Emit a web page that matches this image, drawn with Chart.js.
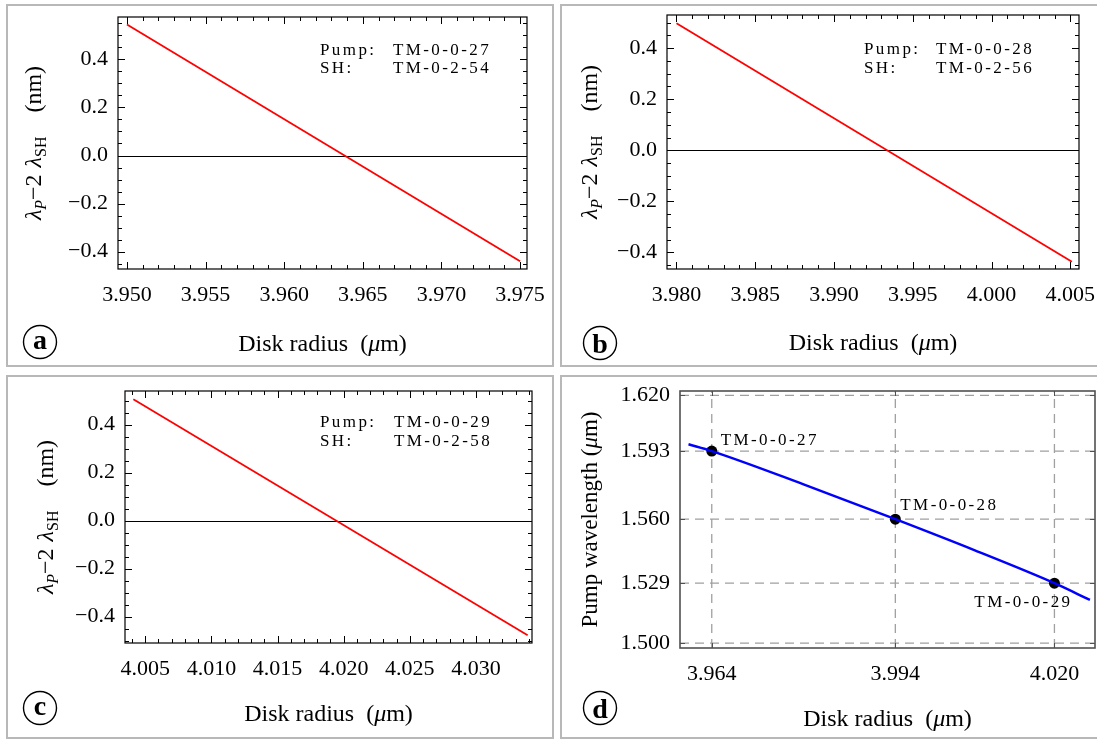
<!DOCTYPE html>
<html>
<head>
<meta charset="utf-8">
<script src="https://cdn.jsdelivr.net/npm/chart.js@4.4.1/dist/chart.umd.min.js"></script>
<style>
  html, body { margin: 0; padding: 0; background: #fff; }
  body { width: 1097px; height: 740px; position: relative; overflow: hidden; }
  .panel { position: absolute; border: 2px solid #b8b8b8; box-sizing: border-box; }
  .panel canvas { position: absolute; left: 0; top: 0; }
</style>
</head>
<body>
<script>
// ---- data ----
// (a) pump TM-0-0-27 / SH TM-0-2-54
const radiusA = [3.950, 3.975];
const detuneA = [0.545, -0.440];
// (b) pump TM-0-0-28 / SH TM-0-2-56
const radiusB = [3.980, 4.0051];
const detuneB = [0.498, -0.437];
// (c) pump TM-0-0-29 / SH TM-0-2-58
const radiusC = [4.0041, 4.0339];
const detuneC = [0.506, -0.478];

const detuneTicks = [-0.4, -0.2, 0.0, 0.2, 0.4];
const radiusTicksA = [3.950, 3.955, 3.960, 3.965, 3.970, 3.975];
const radiusTicksB = [3.980, 3.985, 3.990, 3.995, 4.000, 4.005];
const radiusTicksC = [4.005, 4.010, 4.015, 4.020, 4.025, 4.030];

const pumpModes = ['TM-0-0-27', 'TM-0-0-28', 'TM-0-0-29'];
const shModes = ['TM-0-2-54', 'TM-0-2-56', 'TM-0-2-58'];

// (d) pump wavelength vs disk radius
const curveRadius = [3.9602, 3.964, 3.979, 3.994, 4.007, 4.020, 4.0258];
const curveWavelength = [1.5963, 1.593, 1.5769, 1.560, 1.5449, 1.529, 1.5209];
const matchRadius = [3.964, 3.994, 4.020];
const matchWavelength = [1.593, 1.560, 1.529];
const wavelengthTicks = [1.500, 1.529, 1.560, 1.593, 1.620];
const matchRadiusTicks = [3.964, 3.994, 4.020];

// ---- layout (page pixels) ----
const layout = {
    a: { box: [6, 4, 548, 363], plot: [118, 17, 527, 269], x: [3.94943, 3.97544], y: [-0.472, 0.576],
         yTitleX: 33, xTitleY: 343, circle: [40, 342], legend: [320, 393, 55, 73] },
    b: { box: [560, 4, 545, 363], plot: [667, 15, 1079, 269], x: [3.9794, 4.00555], y: [-0.465, 0.530],
         yTitleX: 589, xTitleY: 342, circle: [600, 343], legend: [864, 936, 54, 73] },
    c: { box: [6, 375, 548, 364], plot: [125, 391, 532, 643], x: [4.00347, 4.03423], y: [-0.510, 0.540],
         yTitleX: 45, xTitleY: 713, circle: [40, 708], legend: [320, 394, 427, 446] },
    d: { box: [560, 375, 545, 364], plot: [680, 391, 1095, 648], x: [3.95881, 4.02663], y: [1.4976, 1.6221],
         yTitleX: 589, xTitleY: 718, circle: [600, 708],
         labelOffsets: [[9, -6, 'left'], [5, -9, 'left'], [18, 24, 'right']] }
};

const SERIF = '"Liberation Serif", "DejaVu Serif", serif';
Chart.defaults.font.family = SERIF;
Chart.defaults.color = '#000';

// draw a run of differently styled text pieces centred on cx
const rich = (ctx, parts, cx, baseY) => {
    parts.forEach(p => {
        if (p.gap) { p.w = p.gap; return; }
        ctx.font = `${p.style || 'normal'} ${p.size}px ${SERIF}`;
        p.w = ctx.measureText(p.t).width;
    });
    const total = parts.reduce((s, p) => s + p.w, 0);
    let x = cx - total / 2;
    ctx.textAlign = 'left';
    ctx.textBaseline = 'alphabetic';
    parts.forEach(p => {
        if (!p.gap) {
            ctx.font = `${p.style || 'normal'} ${p.size}px ${SERIF}`;
            ctx.fillText(p.t, x, baseY + (p.dy || 0));
        }
        x += p.w;
    });
};

const radiusTitle = () => [
    { t: 'Disk radius  (', size: 24 }, { t: 'μ', size: 24, style: 'italic' }, { t: 'm)', size: 24 }
];
const detuneTitle = () => [
    { t: 'λ', size: 24, style: 'italic' }, { t: 'P', size: 16, style: 'italic', dy: 5 },
    { t: '−2', size: 24 }, { gap: 7 }, { t: 'λ', size: 24, style: 'italic' },
    { t: 'SH', size: 16, dy: 5 }, { gap: 24 }, { t: '(nm)', size: 24 }
];
const wavelengthTitle = () => [
    { t: 'Pump wavelength (', size: 23 }, { t: 'μ', size: 23, style: 'italic' }, { t: 'm)', size: 23 }
];

const steps = (min, max, step) => {
    const out = [];
    for (let k = Math.ceil(min / step - 1e-6); k * step <= max + 1e-9; k++) out.push(k * step);
    return out;
};

const decoPlugin = (key, spec, ox, oy) => {
    const p = layout[key];
    return {
        id: 'deco' + key,
        beforeDatasetsDraw(chart) {
            const { ctx, chartArea: a, scales: { x, y } } = chart;
            ctx.save();
            if (spec.kind === 'detune') {
                const y0 = Math.round(y.getPixelForValue(0)) + 0.5;
                ctx.strokeStyle = '#000';
                ctx.lineWidth = 1;
                ctx.beginPath();
                ctx.moveTo(a.left, y0);
                ctx.lineTo(a.right, y0);
                ctx.stroke();
            } else {
                ctx.strokeStyle = '#a0a0a0';
                ctx.lineWidth = 1.3;
                ctx.setLineDash([9, 6]);
                spec.xTicks.forEach(v => {
                    const px = x.getPixelForValue(v);
                    ctx.beginPath(); ctx.moveTo(px, a.bottom); ctx.lineTo(px, a.top); ctx.stroke();
                });
                spec.yTicks.forEach(v => {
                    const py = y.getPixelForValue(v);
                    ctx.beginPath(); ctx.moveTo(a.left, py); ctx.lineTo(a.right, py); ctx.stroke();
                });
            }
            ctx.restore();
        },
        afterDraw(chart) {
            const { ctx, chartArea: a, scales: { x, y } } = chart;
            ctx.save();
            const detune = spec.kind === 'detune';
            const frameColor = detune ? '#000' : '#505050';

            // tick marks, inward on all four sides
            const tickX = (v, len) => {
                const px = Math.round(x.getPixelForValue(v)) + 0.5;
                ctx.beginPath();
                ctx.moveTo(px, a.bottom); ctx.lineTo(px, a.bottom - len);
                ctx.moveTo(px, a.top); ctx.lineTo(px, a.top + len);
                ctx.stroke();
            };
            const tickY = (v, len) => {
                const py = Math.round(y.getPixelForValue(v)) + 0.5;
                ctx.beginPath();
                ctx.moveTo(a.left, py); ctx.lineTo(a.left + len, py);
                ctx.moveTo(a.right, py); ctx.lineTo(a.right - len, py);
                ctx.stroke();
            };
            ctx.strokeStyle = frameColor;
            ctx.lineWidth = 1;
            if (detune) {
                steps(p.x[0], p.x[1], 0.001).forEach(v => tickX(v, 4));
                steps(p.y[0], p.y[1], 0.05).forEach(v => tickY(v, 4));
                spec.xTicks.forEach(v => tickX(v, 7));
                spec.yTicks.forEach(v => tickY(v, 7));
            } else {
                spec.xTicks.forEach(v => tickX(v, 5));
                spec.yTicks.forEach(v => tickY(v, 5));
            }

            // frame
            ctx.lineWidth = detune ? 1.2 : 1.6;
            ctx.strokeRect(a.left, a.top, a.right - a.left, a.bottom - a.top);

            // axis titles
            ctx.fillStyle = '#000';
            const cx = (a.left + a.right) / 2;
            rich(ctx, radiusTitle(), cx, p.xTitleY - oy + 8);
            ctx.save();
            ctx.translate(p.yTitleX - ox, (a.top + a.bottom) / 2);
            ctx.rotate(-Math.PI / 2);
            rich(ctx, detune ? detuneTitle() : wavelengthTitle(), 0, 8);
            ctx.restore();

            // mode annotations
            ctx.font = `normal 17px ${SERIF}`;
            ctx.letterSpacing = '2.4px';
            ctx.textBaseline = 'alphabetic';
            if (detune) {
                const [lx, vx, b1, b2] = p.legend;
                ctx.textAlign = 'left';
                ctx.fillText('Pump:', lx - ox, b1 - oy);
                ctx.fillText(spec.pump, vx - ox, b1 - oy);
                ctx.fillText('SH:', lx - ox, b2 - oy);
                ctx.fillText(spec.sh, vx - ox, b2 - oy);
            } else {
                matchRadius.forEach((r, i) => {
                    const [dx, dy, align] = p.labelOffsets[i];
                    ctx.textAlign = align;
                    ctx.fillText(pumpModes[i], x.getPixelForValue(r) + dx, y.getPixelForValue(matchWavelength[i]) + dy);
                });
            }
            ctx.letterSpacing = '0px';

            // circled panel letter
            const [ccx, ccy] = [p.circle[0] - ox, p.circle[1] - oy];
            ctx.lineWidth = 1.4;
            ctx.strokeStyle = '#000';
            ctx.beginPath();
            ctx.arc(ccx, ccy, 16.5, 0, Math.PI * 2);
            ctx.stroke();
            ctx.font = `bold 28px ${SERIF}`;
            ctx.textAlign = 'center';
            const m = ctx.measureText(key);
            ctx.fillText(key, ccx, ccy + (m.actualBoundingBoxAscent - m.actualBoundingBoxDescent) / 2);
            ctx.restore();
        }
    };
};

const makeChart = (key, spec) => {
    const p = layout[key];
    const [bx, by, bw, bh] = p.box;
    const div = document.createElement('div');
    div.className = 'panel';
    Object.assign(div.style, { left: bx + 'px', top: by + 'px', width: bw + 'px', height: bh + 'px' });
    const cv = document.createElement('canvas');
    const ox = bx + 2, oy = by + 2, cw = bw - 4, ch = bh - 4;
    cv.width = cw;
    cv.height = ch;
    div.appendChild(cv);
    document.body.appendChild(div);
    const [pl, pt, pr, pb] = p.plot;
    const xH = 40;
    return new Chart(cv, {
        type: 'scatter',
        data: { datasets: spec.datasets },
        options: {
            responsive: false,
            animation: false,
            events: [],
            layout: { padding: { left: 0, top: pt - oy, right: cw - (pr - ox), bottom: ch - (pb - oy) - xH } },
            plugins: { legend: { display: false }, tooltip: { enabled: false } },
            scales: {
                x: {
                    type: 'linear', min: p.x[0], max: p.x[1],
                    grid: { display: false, drawTicks: false }, border: { display: false },
                    afterBuildTicks: s => { s.ticks = spec.xTicks.map(v => ({ value: v })); },
                    afterFit: s => { s.height = xH; s.paddingLeft = 0; s.paddingRight = 0; },
                    ticks: { autoSkip: false, maxRotation: 0, padding: 13, font: { size: 22 }, color: '#000', callback: spec.xFmt }
                },
                y: {
                    type: 'linear', min: p.y[0], max: p.y[1],
                    grid: { display: false, drawTicks: false }, border: { display: false },
                    afterBuildTicks: s => { s.ticks = spec.yTicks.map(v => ({ value: v })); },
                    afterFit: s => { s.width = pl - ox; s.paddingTop = 0; s.paddingBottom = 0; },
                    ticks: { autoSkip: false, padding: 10, font: { size: 22 }, color: '#000', callback: spec.yFmt }
                }
            }
        },
        plugins: [decoPlugin(key, spec, ox, oy)]
    });
};

const fmtRadius = v => v.toFixed(3);
const fmtDetune = v => (v < -1e-9 ? '\u2212' : '') + Math.abs(v).toFixed(1);
const redLine = (radius, detune) => ({
    data: radius.map((r, i) => ({ x: r, y: detune[i] })),
    borderColor: '#ff0000', borderWidth: 1.8, showLine: true, pointRadius: 0
});

const drawAll = () => {
    makeChart('a', { kind: 'detune', datasets: [redLine(radiusA, detuneA)], xTicks: radiusTicksA, yTicks: detuneTicks,
        xFmt: fmtRadius, yFmt: fmtDetune, pump: pumpModes[0], sh: shModes[0] });
    makeChart('b', { kind: 'detune', datasets: [redLine(radiusB, detuneB)], xTicks: radiusTicksB, yTicks: detuneTicks,
        xFmt: fmtRadius, yFmt: fmtDetune, pump: pumpModes[1], sh: shModes[1] });
    makeChart('c', { kind: 'detune', datasets: [redLine(radiusC, detuneC)], xTicks: radiusTicksC, yTicks: detuneTicks,
        xFmt: fmtRadius, yFmt: fmtDetune, pump: pumpModes[2], sh: shModes[2] });
    makeChart('d', {
        kind: 'pump',
        datasets: [
            {
                data: curveRadius.map((r, i) => ({ x: r, y: curveWavelength[i] })),
                borderColor: '#0000ff', borderWidth: 2.5, showLine: true, pointRadius: 0,
                cubicInterpolationMode: 'monotone'
            },
            {
                data: matchRadius.map((r, i) => ({ x: r, y: matchWavelength[i] })),
                backgroundColor: '#000', borderWidth: 0, pointRadius: 5.5, showLine: false
            }
        ],
        xTicks: matchRadiusTicks, yTicks: wavelengthTicks,
        xFmt: fmtRadius, yFmt: v => v.toFixed(3)
    });
};

// make sure the serif faces are ready before the canvases are painted
Promise.all([
    document.fonts.load('22px "Liberation Serif"'),
    document.fonts.load('italic 22px "Liberation Serif"'),
    document.fonts.load('bold 22px "Liberation Serif"')
]).catch(() => {}).then(drawAll);
</script>
</body>
</html>
